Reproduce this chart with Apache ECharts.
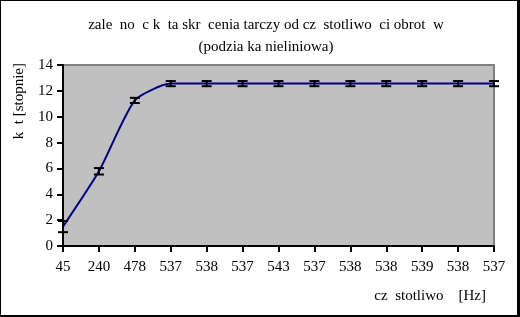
<!DOCTYPE html>
<html><head><meta charset="utf-8">
<script src="https://cdn.jsdelivr.net/npm/echarts@6/dist/echarts.min.js"></script>
<style>html,body{margin:0;padding:0;background:#fff}#c{width:520px;height:317px;box-sizing:border-box;border:1px solid #000;border-right:3px solid #000;border-bottom:2px solid #000}</style>
</head><body><div id="c"></div>
<script>
const categories = ['45','240','478','537','538','537','543','537','538','538','539','538','537'];
const angles = [1.5, 5.78, 11.26, 12.56, 12.56, 12.56, 12.56, 12.56, 12.56, 12.56, 12.56, 12.56, 12.56];
const errors = [0.43, 0.25, 0.2, 0.2, 0.2, 0.2, 0.2, 0.2, 0.2, 0.2, 0.2, 0.2, 0.2];
const yTicks = [0, 2, 4, 6, 8, 10, 12, 14];

const font = 'Liberation Serif';
const chart = echarts.init(document.getElementById('c'), null, {renderer: 'canvas'});
chart.setOption({
  animation: false,
  title: [
    {text: 'zale  no  c k  ta skr  cenia tarczy od cz  stotliwo  ci obrot  w', left: 260, top: 12, textAlign: 'center',
     textStyle: {fontFamily: font, fontSize: 15, fontWeight: 'normal', color: '#000'}},
    {text: '(podzia ka nieliniowa)', left: 260, top: 34, textAlign: 'center',
     textStyle: {fontFamily: font, fontSize: 15, fontWeight: 'normal', color: '#000'}}
  ],
  graphic: [
    {type: 'text', left: 11, top: 62, rotation: Math.PI / 2,
     style: {text: 'k  t [stopnie]', fontFamily: font, fontSize: 15, fill: '#000'}}
  ],
  grid: {left: 62, right: 23, top: 64, bottom: 69, show: true, backgroundColor: '#c0c0c0', borderColor: '#808080', borderWidth: 2},
  xAxis: {
    type: 'category', data: categories, boundaryGap: false,
    name: 'cz  stotliwo    [Hz]', nameLocation: 'end', nameGap: 0,
    nameTextStyle: {fontFamily: font, fontSize: 15, color: '#000', align: 'right', verticalAlign: 'top', padding: [43, 8, 0, 0]},
    axisLine: {lineStyle: {color: '#000', width: 2}},
    axisTick: {show: true, length: 6, lineStyle: {color: '#000', width: 2}, interval: 0},
    axisLabel: {fontFamily: font, fontSize: 15, color: '#000', margin: 14, interval: 0},
    splitLine: {show: false}
  },
  yAxis: {
    type: 'value', min: 0, max: 14, interval: 2,
    axisLine: {show: true, lineStyle: {color: '#000', width: 2}},
    axisTick: {show: true, length: 6, lineStyle: {color: '#000', width: 2}},
    axisLabel: {fontFamily: font, fontSize: 15, color: '#000', margin: 10,
      formatter: v => yTicks.includes(v) ? String(v) : ''},
    splitLine: {show: false}
  },
  series: [
    {type: 'line', data: angles, smooth: 0.2, symbol: 'none',
     lineStyle: {color: '#000080', width: 2}, z: 3},
    {type: 'custom', z: 4,
     data: angles.map((v, i) => [i, v - errors[i], v + errors[i]]),
     renderItem: (params, api) => {
       const lo = api.coord([api.value(0), api.value(1)]);
       const hi = api.coord([api.value(0), api.value(2)]);
       const w = 5;
       const st = {stroke: '#000', lineWidth: 2};
       return {type: 'group', children: [
         {type: 'line', shape: {x1: lo[0], y1: lo[1], x2: hi[0], y2: hi[1]}, style: st},
         {type: 'line', shape: {x1: lo[0] - w, y1: lo[1], x2: lo[0] + w, y2: lo[1]}, style: st},
         {type: 'line', shape: {x1: hi[0] - w, y1: hi[1], x2: hi[0] + w, y2: hi[1]}, style: st}
       ]};
     }}
  ]
});
</script></body></html>
